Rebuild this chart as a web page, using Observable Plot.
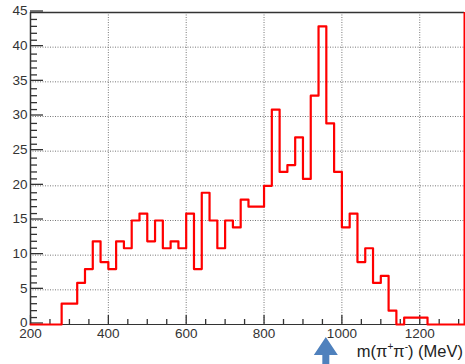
<!DOCTYPE html>
<html>
<head>
<meta charset="utf-8">
<script src="https://cdn.jsdelivr.net/npm/d3@7"></script>
<script src="https://cdn.jsdelivr.net/npm/@observablehq/plot@0.6"></script>
<style>
  html, body { margin: 0; padding: 0; background: #fff; }
  #chart svg { display: block; }
</style>
</head>
<body>
<div id="chart"></div>
<script>
// π+π− invariant-mass spectrum, 20 MeV bins starting at 280 MeV
const binLow = 280;
const binWidth = 20;
const counts = [3, 3, 6, 8, 12, 9, 8, 12, 11, 15, 16, 12, 15, 11, 12, 11, 16, 8, 19, 15,
                11, 15, 14, 18, 17, 17, 20, 31, 22, 23, 27, 21, 33, 43, 29, 22, 14, 16, 9, 11,
                6, 7, 2, 0, 1, 1, 1];

const massRange = [200, 1315];
const countRange = [0, 45];
const xTickLabels = [200, 400, 600, 800, 1000, 1200];
const xMinorTicks = [250, 300, 350, 450, 500, 550, 650, 700, 750, 850, 900, 950,
                     1050, 1100, 1150, 1250, 1300];
const yTickLabels = [0, 5, 10, 15, 20, 25, 30, 35, 40, 45];
const yMinorTicks = d3.range(1, 45).filter(v => v % 5 !== 0);
const markedMass = 960;   // position of the arrow under the axis

// closed step outline: zero line, bin tops, back to zero
const outline = [{m: massRange[0], n: 0}];
counts.forEach((c, i) => outline.push({m: binLow + i * binWidth, n: c}));
outline.push({m: binLow + counts.length * binWidth, n: 0});
outline.push({m: massRange[1], n: 0});

const ink = "#333";
const gridStyle = {stroke: "#777", strokeOpacity: 1, strokeWidth: 1, strokeDasharray: "1,1.5"};
const plain = d3.format("d");

const plot = Plot.plot({
  width: 465,
  height: 364,
  marginLeft: 30,
  marginRight: 1,
  marginTop: 12,
  marginBottom: 40,
  x: {domain: massRange},
  y: {domain: countRange},
  style: {fontFamily: "'Liberation Sans', Arial, sans-serif", fontSize: "13.5px", color: ink, background: "#fff"},
  marks: [
    Plot.gridX(xTickLabels.slice(1), gridStyle),
    Plot.gridY(yTickLabels.slice(1), gridStyle),
    Plot.ruleY([countRange[1]], {stroke: ink, strokeWidth: 1.5}),
    Plot.ruleY([countRange[0]], {stroke: ink, strokeWidth: 1}),
    Plot.ruleX([massRange[0]], {stroke: ink, strokeWidth: 1.5}),
    Plot.axisY(yTickLabels, {anchor: "left", tickSize: -13, tickPadding: 16, tickFormat: plain, dy: -1.5, stroke: ink, strokeWidth: 1.3, fill: ink, label: null}),
    Plot.axisY(yMinorTicks, {anchor: "left", tickSize: -7, stroke: ink, strokeWidth: 1.3, fill: "none", label: null}),
    Plot.axisX(xTickLabels, {anchor: "bottom", tickSize: -9, tickPadding: 13, tickFormat: plain, stroke: ink, strokeWidth: 1.3, fill: ink, label: null}),
    Plot.axisX(xMinorTicks, {anchor: "bottom", tickSize: -5, stroke: ink, strokeWidth: 1.3, fill: "none", label: null}),
    Plot.line(outline, {x: "m", y: "n", curve: "step-after", stroke: "red", strokeWidth: 2.2}),
    Plot.ruleX([massRange[1]], {stroke: "red", strokeWidth: 2})
  ]
});

// axis title with superscript charges, and the arrow marking a mass under the axis
const svg = d3.select(plot);
const xs = plot.scale("x");
const ys = plot.scale("y");
const y0 = ys.apply(0);

const title = svg.append("text")
  .attr("x", 463).attr("y", y0 + 33)
  .attr("text-anchor", "end")
  .attr("font-family", "'Liberation Sans', Arial, sans-serif")
  .attr("font-size", "16.5px")
  .attr("fill", "#222");
title.append("tspan").text("m(π");
title.append("tspan").attr("dy", -7).attr("font-size", "10px").text("+");
title.append("tspan").attr("dy", 7).text("π");
title.append("tspan").attr("dy", -7).attr("font-size", "10px").text("-");
title.append("tspan").attr("dy", 7).text(") (MeV)");

const cx = xs.apply(markedMass);
const tip = y0 + 13, base = y0 + 31, bottom = 364;
svg.append("path")
  .attr("d", `M${cx},${tip}L${cx + 12},${base}L${cx + 3.5},${base}L${cx + 3.5},${bottom}L${cx - 3.5},${bottom}L${cx - 3.5},${base}L${cx - 12},${base}Z`)
  .attr("fill", "#4f81bd");

document.getElementById("chart").append(plot);
</script>
</body>
</html>
